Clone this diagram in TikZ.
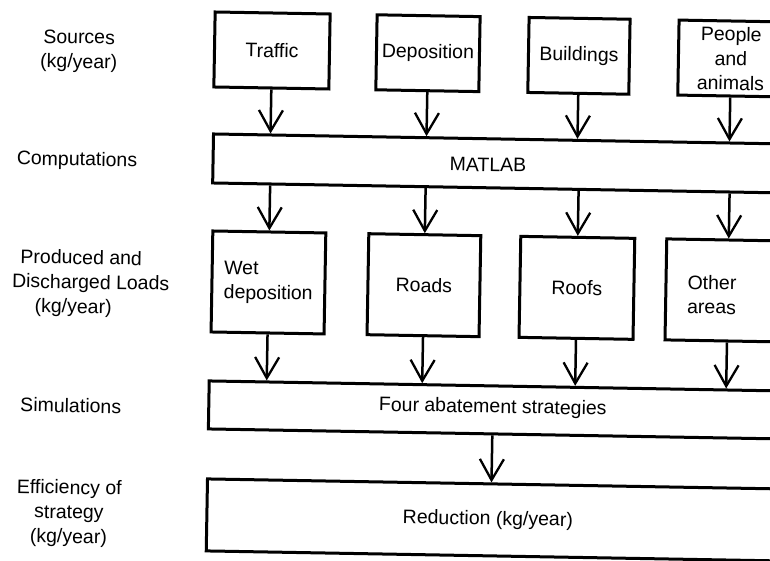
\documentclass[tikz,border=0pt]{standalone}
\usepackage{fontspec}
\setmainfont{Liberation Sans}
\usetikzlibrary{arrows.meta,calc}
\begin{document}
\begin{tikzpicture}[x=1pt,y=-1pt,
  lbl/.style={font=\fontsize{19.5}{24.5}\selectfont, align=center, inner sep=0pt, transform shape},
  box/.style={lbl, draw, line width=3pt, minimum height=75pt},
  boxb/.style={lbl, draw, line width=3pt, minimum height=101pt},
  bar/.style={draw, line width=3pt, minimum width=609pt, inner sep=0pt, transform shape},
  flow/.style={line width=2.5pt, -{Straight Barb[length=21pt,width=24pt,line width=2.3pt]}}]
\useasboundingbox (0,0) rectangle (770,561);
\fill[white] (0,0) rectangle (770,561);
\clip (0,0) rectangle (770,561);
\begin{scope}[rotate around={-1:(385,280)}]
  % left labels
  \node[lbl] (sources) at (75,56.5) {Sources\\(kg/year)};
  \node[lbl] (computations) at (75,166) {Computations};
  \node[lbl, align=left, anchor=west] (produced) at (12,289)
    {\hspace*{8pt}Produced and\\Discharged Loads\\\hspace*{23pt}(kg/year)};
  \node[lbl] (simulations) at (73,411) {Simulations};
  \node[lbl] (efficiency) at (73,519) {Efficiency of\\strategy\\(kg/year)};
  % sources row
  \node[box, minimum width=115pt] (traffic) at (268,52.5) {Traffic};
  \node[box, minimum width=103pt] (deposition) at (424,52.5) {Deposition};
  \node[box, minimum width=101pt] (buildings) at (575,52.5) {Buildings};
  \node[box, minimum width=105pt] (people) at (727,52.5) {People\\and\\animals};
  % computations bar
  \node[bar, minimum height=49pt] (matlab) at (515.5,161.5) {};
  \node[lbl] (matlabtext) at (486,163) {MATLAB};
  % loads row
  \node[boxb, minimum width=113pt, align=left] (wet) at (268.5,284.5) {Wet\\deposition};
  \node[boxb, minimum width=112pt] (roads) at (424,284.5) {Roads};
  \node[boxb, minimum width=114pt] (roofs) at (577,284.5) {Roofs};
  \node[boxb, minimum width=124pt] (other) at (728,284.5) {};
  \node[lbl] (othertext) at (712,289) {Other\\areas};
  % simulations bar
  \node[bar, minimum height=48pt] (four) at (515.5,408) {};
  \node[lbl] (fourtext) at (495,406) {Four abatement strategies};
  % efficiency bar
  \node[bar, minimum height=72pt] (reduction) at (515.5,518) {};
  \node[lbl] (reductiontext) at (492,518) {Reduction (kg/year)};
  % arrows
  \foreach \b in {traffic,deposition,buildings,people}
    \draw[flow] (\b.south) -- ($(matlab.north west)!(\b.south)!(matlab.north east)$);
  \foreach \b in {wet,roads,roofs,other}{
    \draw[flow] ($(matlab.south west)!(\b.north)!(matlab.south east)$) -- (\b.north);
    \draw[flow] (\b.south) -- ($(four.north west)!(\b.south)!(four.north east)$);
  }
  \draw[flow] ($(four.south west)!(fourtext)!(four.south east)$)
    -- ($(reduction.north west)!(fourtext)!(reduction.north east)$);
\end{scope}
\end{tikzpicture}
\end{document}
